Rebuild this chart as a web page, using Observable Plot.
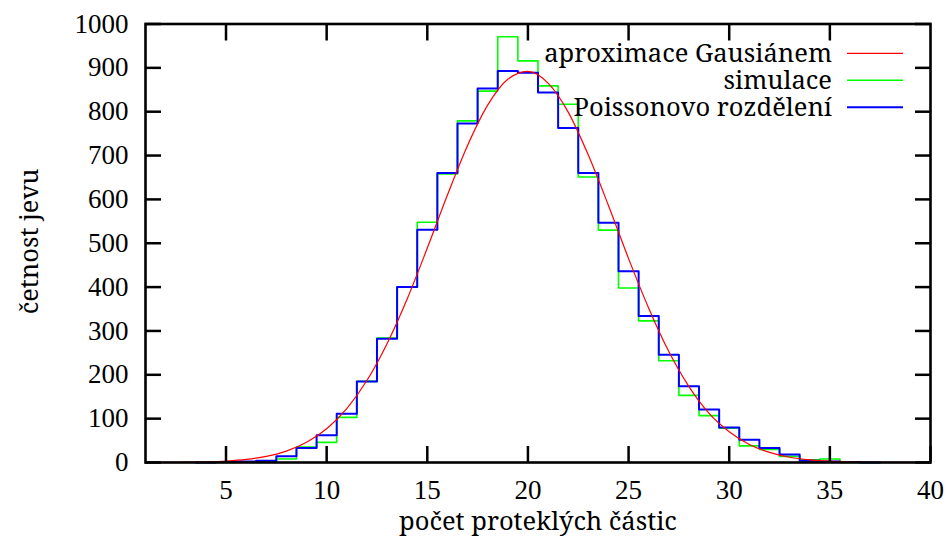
<!DOCTYPE html>
<html><head><meta charset="utf-8">
<script src="https://cdn.jsdelivr.net/npm/d3@7"></script>
<script src="https://cdn.jsdelivr.net/npm/@observablehq/plot@0.6"></script>
<style>body{margin:0;background:#fff} svg{display:block}</style>
</head><body><div id="chart"></div>
<script>
// Data
const bins = [4,5,6,7,8,9,10,11,12,13,14,15,16,17,18,19,20,21,22,23,24,25,26,27,28,29,30,31,32,33,34,35,36,37];
const poisson = [0,1,2,4,14,33,62,111,185,282,400,531,660,773,853,893,889,844,763,660,547,436,334,246,174,121,80,52,33,18,4,2,1,0];
const simulace = [0,0,1,3,8,35,46,103,185,284,400,548,658,779,847,971,916,859,817,651,530,398,323,232,153,107,78,38,30,14,6,8,0,0];
const gaussX = [1,2,3,4,5,6,7,8,9,10,11,12,13,14,15,16,17,18,19,20,21,22,23,24,25,26,27,28,29,30,31,32,33,34,35,36,37,38,39,40];
const gaussY = [0.1,0.3,0.7,1.6,3.4,7,14,26,46,77,123,187,271,373,489,610,723,815,874,892,865,799,701,586,465,352,253,173,112,70,41,23,12,6,3,1.4,0.6,0.3,0.1,0.04];
const xTicks = [5,10,15,20,25,30,35,40];
const yTicks = [0,100,200,300,400,500,600,700,800,900,1000];
const legendLabels = ["aproximace Gausiánem", "simulace", "Poissonovo rozdělení"];
const legendColors = ["#ff0000", "#00ff00", "#0000ff"];

const histeps = (vals) => bins.flatMap((k, i) => [{x: k - 0.5, y: vals[i]}, {x: k + 0.5, y: vals[i]}]);
const gauss = gaussX.map((x, i) => ({x, y: gaussY[i]}));

const wordFont = "'Noto Serif', 'Liberation Serif', serif";
const fsDigits = 27;
const fsWords = 25.5;
const fmt = d3.format("d");

const chart = Plot.plot({
  width: 952,
  height: 544,
  marginLeft: 145,
  marginRight: 22,
  marginTop: 23.5,
  marginBottom: 82,
  style: {fontSize: fsDigits + "px", background: "#fff", color: "#000", fontFamily: "Liberation Serif"},
  x: {domain: [1, 40], ticks: xTicks},
  y: {domain: [0, 1000], ticks: yTicks},
  marks: [
    Plot.line(histeps(simulace), {x: "x", y: "y", stroke: "#00ff00", strokeWidth: 1.6}),
    Plot.line(histeps(poisson), {x: "x", y: "y", stroke: "#0000ff", strokeWidth: 2}),
    Plot.line(gauss, {x: "x", y: "y", stroke: "#ff0000", strokeWidth: 1.2, curve: "monotone-x"}),
    Plot.axisX(xTicks, {anchor: "bottom", tickSize: -16, strokeWidth: 2.5, tickFormat: () => "", label: null}),
    Plot.axisX(xTicks.slice(0, -1), {anchor: "top", tickSize: -16, strokeWidth: 2.5, tickFormat: () => "", label: null}),
    Plot.axisY(yTicks, {anchor: "left", tickSize: -16, strokeWidth: 2.5, tickFormat: () => "", label: null}),
    Plot.axisY(yTicks, {anchor: "right", tickSize: -16, strokeWidth: 2.5, tickFormat: () => "", label: null}),
    Plot.axisX(xTicks, {anchor: "bottom", tickSize: 0, tickPadding: 17, label: null, fontSize: fsDigits, tickFormat: fmt}),
    Plot.axisY(yTicks, {anchor: "left", tickSize: 0, tickPadding: 17, label: null, fontSize: fsDigits, tickFormat: fmt}),
    Plot.frame({stroke: "#000", strokeWidth: 2.6})
  ]
});

const svg = d3.select(chart);
svg.append("text")
  .attr("x", 538).attr("y", 530)
  .attr("text-anchor", "middle")
  .style("font-family", wordFont)
  .attr("font-size", fsWords)
  .text("počet proteklých částic");
svg.append("text")
  .attr("transform", "translate(38,241.5) rotate(-90)")
  .attr("text-anchor", "middle")
  .style("font-family", wordFont)
  .attr("font-size", fsWords)
  .text("četnost jevu");
const lg = svg.append("g");
legendLabels.forEach((lab, i) => {
  const y = 53.3 + i * 27;
  lg.append("text").attr("x", 832).attr("y", y + 8.5)
    .attr("text-anchor", "end").style("font-family", wordFont).attr("font-size", fsWords).text(lab);
  lg.append("line").attr("x1", 847).attr("x2", 903).attr("y1", y).attr("y2", y)
    .attr("stroke", legendColors[i]).attr("stroke-width", i === 0 ? 1.2 : (i === 1 ? 1.6 : 2));
});
document.getElementById("chart").appendChild(chart);
</script>
</body></html>
